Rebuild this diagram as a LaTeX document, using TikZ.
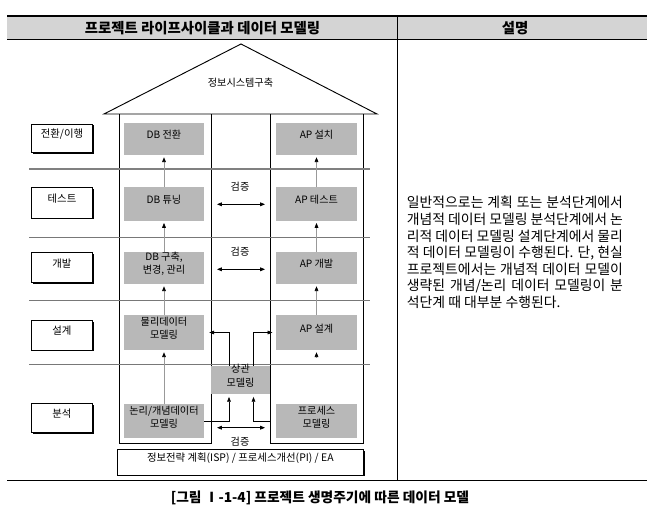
\documentclass[tikz,border=0pt]{standalone}
\usepackage{fontspec}
\setmainfont{Noto Sans CJK KR}
\usetikzlibrary{arrows.meta,fit,shadows,calc}
\definecolor{hdrgray}{RGB}{212,212,212}
\definecolor{boxgray}{RGB}{184,184,184}
\definecolor{sepgray}{RGB}{120,120,120}
\begin{document}
\begin{tikzpicture}[x=0.75pt,y=-0.75pt,
  lbl/.style={font=\fontsize{7.6}{9.5}\selectfont},
  gbox/.style={fill=boxgray,draw=none,inner sep=0pt,align=center,font=\fontsize{7.6}{10}\selectfont},
  lbox/.style={draw=black,line width=0.6pt,fill=white,inner sep=0pt,align=center,
     font=\fontsize{7.8}{9.5}\selectfont,
     drop shadow={shadow xshift=1pt,shadow yshift=-1pt,fill=black,opacity=1}},
  wall/.style={draw=black,line width=0.7pt},
  sepline/.style={draw=sepgray,line width=0.5pt},
  varr/.style={draw=gray!80,line width=0.5pt,-{Triangle[length=3.6pt,width=2.8pt,color=black]},shorten >=1.5pt},
  conn/.style={draw=black,line width=0.5pt,-{Triangle[length=3.6pt,width=2.8pt]}},
  darr/.style={draw=black,line width=0.5pt,{Triangle[length=3.6pt,width=2.8pt]}-{Triangle[length=3.6pt,width=2.8pt]}},
  body/.style={anchor=west,inner sep=0pt,font=\fontsize{10.4}{12}\selectfont}
]
\useasboundingbox (0,0) rectangle (647,514);
% table header
\fill[hdrgray] (7,16) rectangle (647,39.3);
\draw[black,line width=1.2pt] (7,16) -- (647,16);
\draw[black,line width=0.9pt] (7,39.3) -- (647,39.3);
\draw[black,line width=0.8pt] (397.7,16) -- (397.7,480.7);
\draw[black,line width=1pt] (7,480.7) -- (647,480.7);
\node[font=\bfseries\fontsize{10.8}{12}\selectfont] (h1) at (202.5,27.7) {프로젝트 라이프사이클과 데이터 모델링};
\node[font=\bfseries\fontsize{10.8}{12}\selectfont] (h2) at (515,27.7) {설명};
% roof and walls
\draw[wall] (104,114) -- (241,44) -- (377,114) -- cycle;
\node[lbl] (roof) at (240.5,83) {정보시스템구축};
\draw[wall] (119,114) -- (119,443.3) -- (211,443.3) -- (211,114);
\draw[wall] (270,114) -- (270,443.3) -- (363,443.3) -- (363,114);
% separators
\draw[draw=gray,line width=1.3pt] (29,169.3) -- (370,169.3);
\draw[sepline] (29,237.3) -- (370,237.3);
\draw[sepline] (29,300) -- (370,300);
\draw[sepline] (29,364) -- (370,364);
% phase labels
\node[lbox,fit={(31.7,124) (92.3,152.7)}] (l1) {전환/이행};
\node[lbox,fit={(31.7,187.7) (92.3,218)}] (l2) {테스트};
\node[lbox,fit={(31.7,252.7) (92.3,282.7)}] (l3) {개발};
\node[lbox,fit={(31.7,320.7) (92.3,350)}] (l4) {설계};
\node[lbox,fit={(31.7,403.3) (92.3,432.7)}] (l5) {분석};
% gray boxes
\node[gbox,fit={(124,123) (204,155)}] (db1) {DB 전환};
\node[gbox,fit={(124,187.3) (204,220.7)}] (db2) {DB 튜닝};
\node[gbox,fit={(124,252.3) (204,284)}] (db3) {DB 구축,\\변경, 관리};
\node[gbox,fit={(124,315) (204,350)}] (db4) {물리데이터\\모델링};
\node[gbox,fit={(124,404.3) (204,438.3)}] (db5) {논리/개념데이터\\모델링};
\node[gbox,fit={(276,123) (357,155)}] (ap1) {AP 설치};
\node[gbox,fit={(276,187.3) (357,220.7)}] (ap2) {AP 테스트};
\node[gbox,fit={(276,252.3) (357,284)}] (ap3) {AP 개발};
\node[gbox,fit={(276,315) (357,350)}] (ap4) {AP 설계};
\node[gbox,fit={(276,404.3) (357,438.3)}] (ap5) {프로세스\\모델링};
\node[gbox,fit={(211,366) (270,394)}] (sg) {상관\\모델링};
% bottom base box
\node[lbox,fit={(117.3,449.3) (363.3,475)}] (isp) {정보전략 계획(ISP) / 프로세스개선(PI) / EA};
% vertical arrows
\draw[varr] (db2.north) -- (db1.south);
\draw[varr] (db3.north) -- (db2.south);
\draw[varr] (db4.north) -- (db3.south);
\draw[varr] (db5.north) -- (db4.south);
\draw[varr] (ap2.north) -- (ap1.south);
\draw[varr] (ap3.north) -- (ap2.south);
\draw[varr] (ap4.north) -- (ap3.south);
\coordinate (apt) at (316.5,357.5);
\draw[varr] (apt) -- (ap4.south);
% verification arrows
\coordinate (v1a) at (217,204.3); \coordinate (v1b) at (265,204.3);
\coordinate (v2a) at (217,269.3); \coordinate (v2b) at (265,269.3);
\coordinate (v3a) at (217,427.7); \coordinate (v3b) at (265,427.7);
\draw[darr] (v1a) -- (v1b);
\draw[darr] (v2a) -- (v2b);
\draw[darr] (v3a) -- (v3b);
\node[lbl] (g1) at (240,186.7) {검증};
\node[lbl] (g2) at (240,251.7) {검증};
\node[lbl] (g3) at (240,441.7) {검증};
% correlation connectors
\coordinate (pw) at (270,421.3);
\draw[conn,shorten >=2pt] (db5.east) -| ($(sg.south)+(-11.5,0)$);
\draw[conn,shorten >=2pt] (pw) -| ($(sg.south)+(13,0)$);
\draw[conn,shorten >=3.8pt] ($(sg.north)+(-11.5,0)$) |- (db4.east);
\draw[conn,shorten >=2.5pt] ($(sg.north)+(13,0)$) |- (ap4.west);
% description text
\node[body] (t1) at (406.7,202.7) {\makebox[162pt][s]{일반적으로는 계획 또는 분석단계에서}};
\node[body] (t2) at (406.7,219.4) {\makebox[162pt][s]{개념적 데이터 모델링 분석단계에서 논}};
\node[body] (t3) at (406.7,236.0) {\makebox[162pt][s]{리적 데이터 모델링 설계단계에서 물리}};
\node[body] (t4) at (406.7,252.7) {\makebox[162pt][s]{적 데이터 모델링이 수행된다. 단, 현실}};
\node[body] (t5) at (406.7,269.4) {\makebox[162pt][s]{프로젝트에서는 개념적 데이터 모델이}};
\node[body] (t6) at (406.7,286.0) {\makebox[162pt][s]{생략된 개념/논리 데이터 모델링이 분}};
\node[body] (t7) at (406.7,302.7) {석단계 때 대부분 수행된다.};
% caption
\node[font=\bfseries\fontsize{10.3}{12}\selectfont] (cap) at (320,498) {[그림 Ⅰ-1-4] 프로젝트 생명주기에 따른 데이터 모델};
\end{tikzpicture}
\end{document}
